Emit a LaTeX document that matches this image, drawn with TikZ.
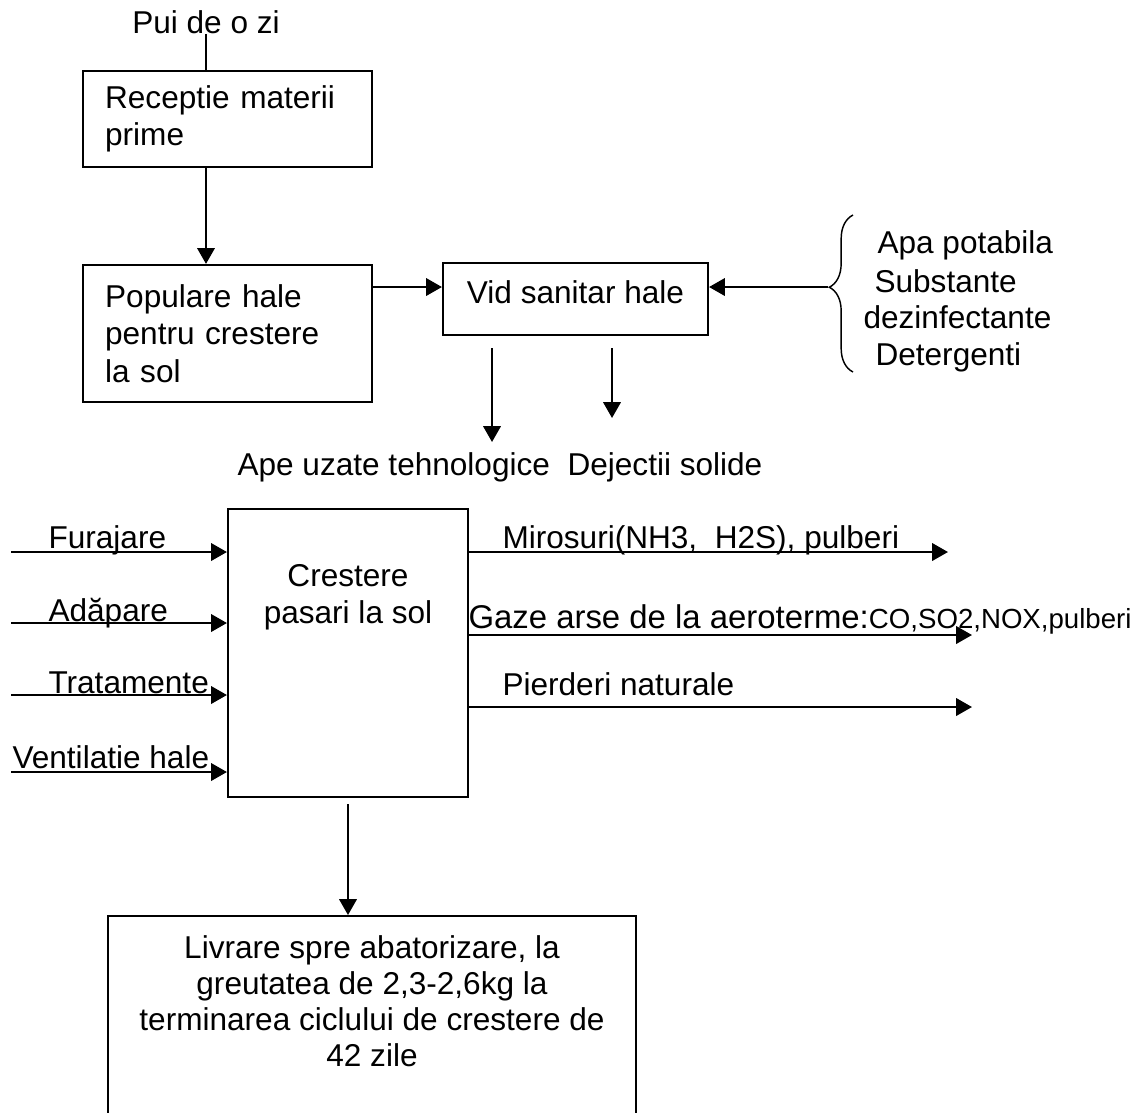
\documentclass[tikz,border=0pt]{standalone}
\usepackage{fontspec}
\setmainfont{Liberation Sans}
\usetikzlibrary{arrows.meta,decorations.pathreplacing}
\newcommand{\diagfont}{\fontsize{12}{14.2}\selectfont}

\begin{document}
\begin{tikzpicture}[
    x=0.38pt, y=-0.38pt,
    box/.style={draw, line width=0.8pt, rectangle, inner sep=0pt, font=\diagfont},
    lbl/.style={inner sep=0pt, font=\diagfont},
    arrow/.style={-{Triangle[length=6pt,width=6.6pt]}, line width=0.85pt}
]
    \clip (0,0) rectangle (1144,1112);

    % Reception
    \node[lbl, anchor=base] (pui) at (206,33) {Pui de o zi};
    \node[box, minimum width=109.8pt, minimum height=36.5pt, text width=93pt, inner xsep=8.4pt, align=left] (rec) at (227.5,119) {Receptie materii\\prime};

    % Populating
    \node[box, minimum width=109.8pt, minimum height=52.1pt, text width=93pt, inner xsep=8.4pt, align=left] (pop) at (227.5,333.5) {Populare hale\\pentru crestere\\la sol};

    % Sanitary break
    \node[box, minimum width=100.7pt, minimum height=27.4pt, text height=9pt, text depth=5.8pt] (vid) at (575.5,299) {Vid sanitar hale};
    \draw[decorate, decoration={brace, amplitude=9pt, aspect=0.54}, line width=0.55pt] (853,372) -- (853,215);
    \coordinate (brtip) at (828,287);
    \node[lbl, anchor=base west] (apa) at (877,253) {Apa potabila};
    \node[lbl, anchor=base west] (subst) at (874,292) {Substante};
    \node[lbl, anchor=base west] (dezinf) at (863,328) {dezinfectante};
    \node[lbl, anchor=base west] (deterg) at (875,365) {Detergenti};
    \coordinate (uz) at (492,442);
    \coordinate (dj) at (612,418);
    \node[lbl, anchor=base west] (ape) at (237,475) {Ape uzate tehnologice};
    \node[lbl, anchor=base west] (dej) at (567,475) {Dejectii solide};

    % Growing
    \node[box, minimum width=91.2pt, minimum height=109.4pt] (cre) at (348,653) {};
    \node[lbl, align=center] (cretext) at (348,597) {Crestere\\pasari la sol};

    % Inputs
    \coordinate (in1) at (11,552);
    \coordinate (in2) at (11,623);
    \coordinate (in3) at (11,695);
    \coordinate (in4) at (11,772);
    \node[lbl, anchor=base west] (fur) at (48,548) {Furajare};
    \node[lbl, anchor=base west] (ada) at (48,621) {Adăpare};
    \node[lbl, anchor=base west] (trat) at (48,693) {Tratamente};
    \node[lbl, anchor=base west] (vent) at (12,768) {Ventilatie hale};

    % Outputs
    \coordinate (out1) at (948,552);
    \coordinate (out2) at (972,635);
    \coordinate (out3) at (972,707);
    \node[lbl, anchor=base west] (mir) at (502,548) {Mirosuri(NH3,\ \ H2S), pulberi};
    \node[lbl, anchor=base west] (gaze) at (468,628) {{\fontsize{12.5}{15}\selectfont Gaze arse de la aeroterme:}{\fontsize{10.5}{12}\selectfont CO,SO2,NOX,pulberi}};
    \node[lbl, anchor=base west] (pierd) at (502,695) {Pierderi naturale};

    % Delivery
    \node[box, minimum width=200.6pt, minimum height=84pt, anchor=north] (liv) at (372,915) {};
    \node[lbl, align=center, font=\fontsize{12}{13.7}\selectfont] (livtext) at (372,1001) {Livrare spre abatorizare, la\\greutatea de 2,3-2,6kg la\\terminarea ciclului de crestere de\\42 zile};

    % Arrows
    \draw[line width=0.85pt] (pui.south) -- (pui.south |- rec.north);
    \draw[arrow] (rec.south -| pui.south) -- (pop.north -| pui.south);
    \draw[arrow] (pop.east |- 0,287) -- (vid.west |- 0,287);
    \draw[arrow] (brtip) -- (brtip -| vid.east);
    \draw[arrow, shorten <=4.6pt] (vid.south -| uz) -- (uz);
    \draw[arrow, shorten <=4.6pt] (vid.south -| dj) -- (dj);
    \draw[arrow] (in1) -- (in1 -| cre.west);
    \draw[arrow] (in2) -- (in2 -| cre.west);
    \draw[arrow] (in3) -- (in3 -| cre.west);
    \draw[arrow] (in4) -- (in4 -| cre.west);
    \draw[arrow] (cre.east |- out1) -- (out1);
    \draw[arrow] (cre.east |- out2) -- (out2);
    \draw[arrow] (cre.east |- out3) -- (out3);
    \draw[arrow, shorten <=2.3pt] (cre.south) -- (cre.south |- liv.north);

\end{tikzpicture}
\end{document}
